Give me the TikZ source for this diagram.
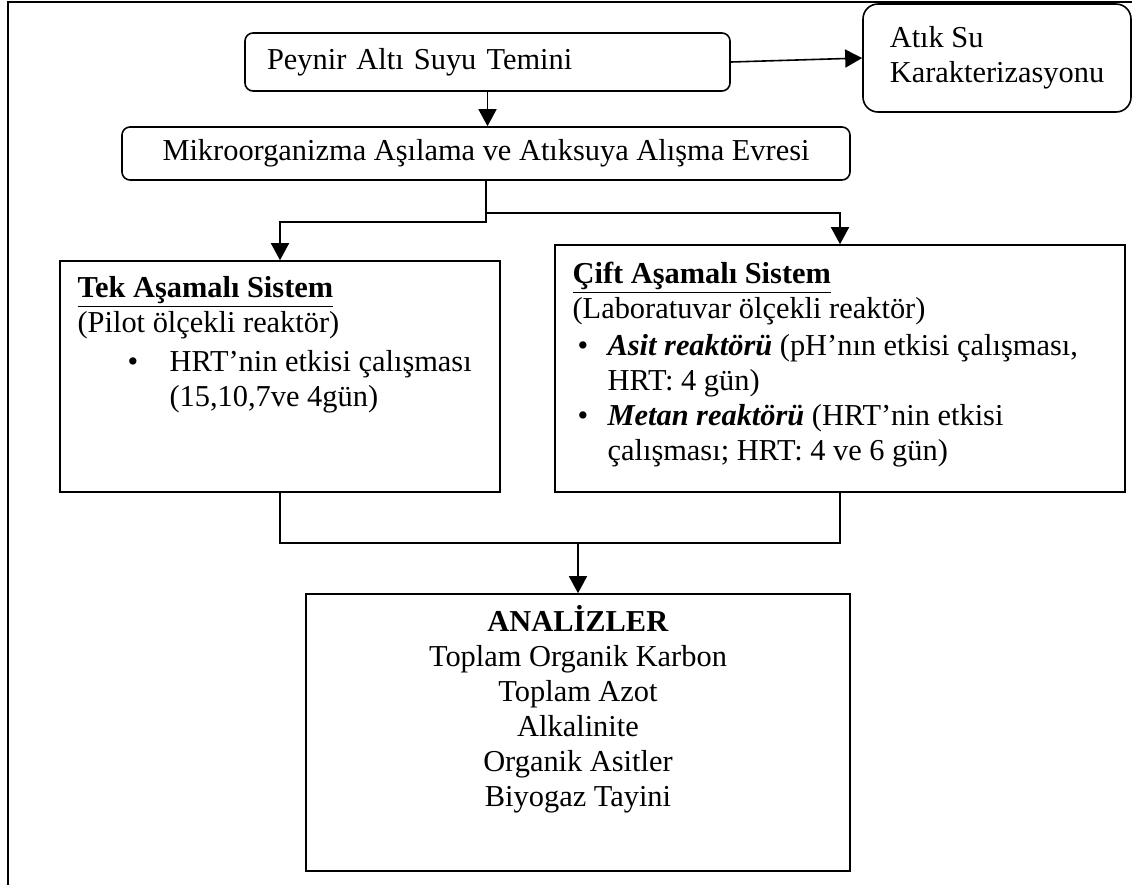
\documentclass[tikz,border=0pt]{standalone}
\usepackage{fontspec}
\setmainfont{Liberation Serif}
\usetikzlibrary{arrows.meta,positioning}
\begin{document}
\begin{tikzpicture}[x=0.5pt,y=-0.5pt,
  every node/.style={font=\fontsize{15.2}{17.5}\selectfont},
  rbox/.style={draw,line width=0.8pt,rounded corners=4pt,inner sep=0pt},
  sbox/.style={draw,line width=0.8pt,inner sep=0pt},
  txt/.style={inner sep=0pt,align=left,anchor=north west},
  ln/.style={line width=0.8pt},
  arr/.style={line width=0.8pt,-{Triangle[length=8.5pt,width=9pt]}}]
  \useasboundingbox (0,0) rectangle (1132,885);
  % outer frame (cut off at right and bottom)
  \draw[line width=1pt] (8,885) -- (8,2) -- (1132,2);
  % top row
  \node[rbox,minimum width=242.5pt,minimum height=29pt,inner xsep=11pt,text width=220.5pt,align=left] (peynir) at (487.5,62) {Peynir Altı Suyu Temini};
  \node[rbox,rounded corners=7.5pt,minimum width=134pt,minimum height=54pt,align=left] (atik) at (997,58) {Atık Su\\Karakterizasyonu};
  \node[rbox,minimum width=364pt,minimum height=26.5pt,align=center] (mikro) at (486,153.5) {Mikroorganizma Aşılama ve Atıksuya Alışma Evresi};
  % reactor systems
  \node[sbox,minimum width=220pt,minimum height=115.5pt] (tek) at (280,376.5) {};
  \node[txt] (tektxt) at ([shift={(18,16)}]tek.north west)
    {\underline{\textbf{Tek Aşamalı Sistem}}\\
     (Pilot ölçekli reaktör)\\[2pt]
     \hspace*{25pt}\makebox[21pt][l]{\textbullet}HRT’nin etkisi çalışması\\
     \hspace*{46pt}(15,10,7ve 4gün)};
  \node[sbox,minimum width=285pt,minimum height=123.5pt] (cift) at (840,368.5) {};
  \node[txt] (cifttxt) at ([shift={(18,17)}]cift.north west)
    {\underline{\textbf{Çift Aşamalı Sistem}}\\
     (Laboratuvar ölçekli reaktör)\\[1pt]
     \makebox[17.5pt][l]{\hspace{2.5pt}\textbullet}\textbf{\textit{Asit reaktörü}} (pH’nın etkisi çalışması,\\
     \hspace*{17.5pt}HRT: 4 gün)\\
     \makebox[17.5pt][l]{\hspace{2.5pt}\textbullet}\textbf{\textit{Metan reaktörü}} (HRT’nin etkisi\\
     \hspace*{17.5pt}çalışması; HRT: 4 ve 6 gün)};
  % analyses
  \node[sbox,minimum width=272pt,minimum height=138.5pt] (analiz) at (578,732.5) {};
  \node[inner sep=0pt,align=center,anchor=north] (analiztxt) at ([yshift=-6pt]analiz.north)
    {\textbf{ANALİZLER}\\Toplam Organik Karbon\\Toplam Azot\\Alkalinite\\Organik Asitler\\Biyogaz Tayini};
  % connectors
  \draw[arr] (peynir.east) -- (atik.west);
  \draw[arr] (peynir.south) -- (peynir.south |- mikro.north);
  \draw[arr] (mikro.south) -- ++(0,41) -| (tek.north);
  \coordinate (splitR) at ([yshift=-16pt]mikro.south);
  \draw[arr] (splitR) -| (cift.north);
  \draw[ln] (tek.south) -- ++(0,50) coordinate (joinL) -| (cift.south);
  \coordinate (join) at (joinL -| analiz.north);
  \draw[arr] (join) -- (analiz.north);
\end{tikzpicture}
\end{document}
